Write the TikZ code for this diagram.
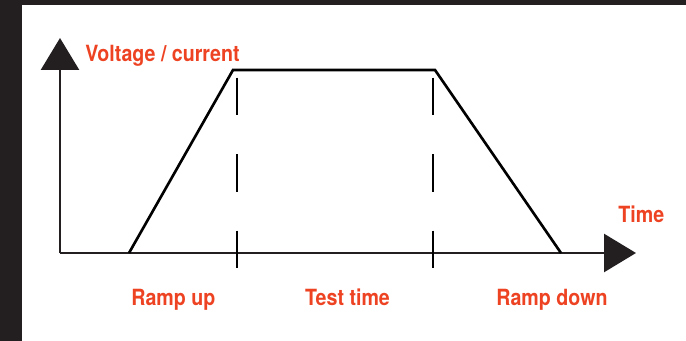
\documentclass[tikz,border=0pt]{standalone}
\usepackage{fontspec}
\setmainfont[FakeStretch=0.88]{TeX Gyre Heros}
\usetikzlibrary{arrows.meta}
\definecolor{inkdark}{HTML}{231F20}
\definecolor{labelred}{HTML}{EE4323}

\begin{document}
\begin{tikzpicture}[x=0.02cm, y=-0.02cm,
    axis/.style={draw=inkdark, line width=1.5pt,
                 -{Triangle[length=6.4mm, width=7.6mm]}},
    curve/.style={draw=black, line width=1.5pt, line join=miter},
    marker/.style={draw=black, line width=1.5pt,
                   dash pattern=on 7.5mm off 7.8mm},
    lbl/.style={text=labelred, font=\fontsize{12.7}{14}\selectfont\bfseries,
                inner sep=0pt}
  ]
  \useasboundingbox (0,0) rectangle (686,341);
  \fill[white] (0,0) rectangle (686,341);
  \fill[inkdark] (0,0) rectangle (22,341);
  \fill[inkdark] (0,0) rectangle (686,5);

  \coordinate (origin) at (60, 253);
  \coordinate (ytip) at (60, 38);
  \coordinate (xtip) at (636, 253);
  \draw[axis] (origin) -- (ytip);
  \draw[axis] (origin) -- (xtip);

  \coordinate (rampstart) at (129, 253);
  \coordinate (topleft) at (233, 70);
  \coordinate (topright) at (435, 70);
  \coordinate (rampend) at (561, 253);
  \draw[curve] (rampstart) -- (topleft) -- (topright) -- (rampend);

  \coordinate (startA) at (237, 77.7);
  \coordinate (startB) at (237, 268);
  \coordinate (endA) at (433, 77.7);
  \coordinate (endB) at (433, 268);
  \draw[marker] (startA) -- (startB);
  \draw[marker] (endA) -- (endB);

  \node[lbl, anchor=base west] (ylabel) at (85, 62) {Voltage / current};
  \node[lbl, anchor=base west] (xlabel) at (618, 222) {Time};
  \node[lbl, anchor=base west] (rampup) at (131, 305) {Ramp up};
  \node[lbl, anchor=base] (testtime) at (347.5, 305) {Test time};
  \node[lbl, anchor=base west] (rampdown) at (496, 305.5) {Ramp down};
\end{tikzpicture}
\end{document}
